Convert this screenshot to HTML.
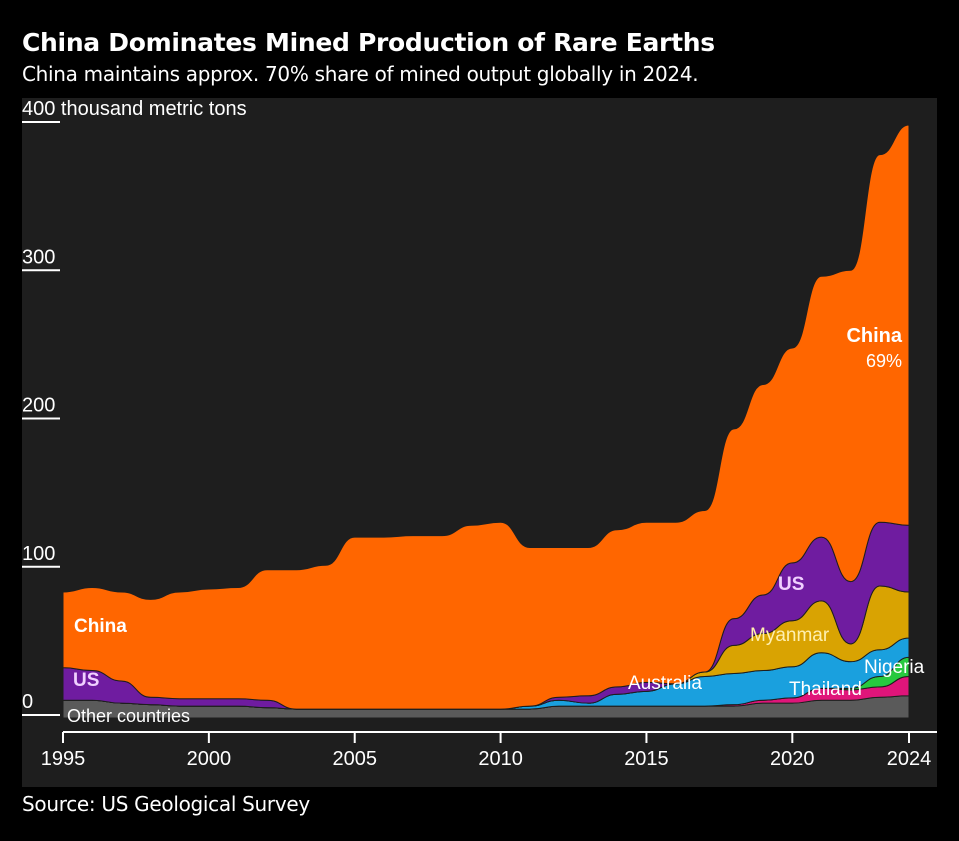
<!DOCTYPE html>
<html><head><meta charset="utf-8"><style>
body{margin:0;background:#000;width:959px;height:841px;overflow:hidden;font-family:"Liberation Sans",sans-serif;color:#fff}
#title{position:absolute;left:22px;top:28px;font-size:25px;font-weight:bold;font-family:"DejaVu Sans",sans-serif;letter-spacing:-0.3px}
#sub{position:absolute;left:22px;top:62px;font-size:20px;font-family:"DejaVu Sans",sans-serif;letter-spacing:-0.3px}
#src{position:absolute;left:22px;top:792px;font-size:20px;font-family:"DejaVu Sans",sans-serif;letter-spacing:-0.3px}
svg{position:absolute;left:0;top:0}
</style></head><body>
<div id="title">China Dominates Mined Production of Rare Earths</div>
<div id="sub">China maintains approx. 70% share of mined output globally in 2024.</div>
<div id="src">Source: US Geological Survey</div>
<svg id="chart" width="959" height="841">
<rect x="22" y="98" width="915" height="689" fill="#1e1e1e"/>
</svg>
<script>
const years=[];for(let y=1995;y<=2024;y++)years.push(y);
const other=[12,12,10,9,8,8,8,7,6,6,6,6,6,6,6,6,6,8,8,8,8,8,8,8,10,10,12,12,14,15];
const thailand=[0,0,0,0,0,0,0,0,0,0,0,0,0,0,0,0,0,0,0,0,0,0,0,1,2,3.6,8,7,7,13];
const nigeria=[0,0,0,0,0,0,0,0,0,0,0,0,0,0,0,0,0,0,0,0,0,0,0,0,0,0,0,1,7,13];
const australia=[0,0,0,0,0,0,0,0,0,0,0,0,0,0,0,0,2,4,2,8,10,15,20,21,20,21,24,18,18,13];
const myanmar=[0,0,0,0,0,0,0,0,0,0,0,0,0,0,0,0,0,0,0,0,0,0,3,19,25,31,35,12,43,31];
const us=[22,20,15,5,5,5,5,5,0,0,0,0,0,0,0,0,0,2,5,5,6,0,0,18,26,39,43,42,43,45];
const china=[51,56,60,66,72,74,75,88,94,97,116,116,117,117,124,126,107,101,100,106,108,109,109,128,142,145,176,210,248,270];
const yTicks=[0,100,200,300,400];
const xTicks=[1995,2000,2005,2010,2015,2020,2024];
const layers=[["other",other,"#5a5a5a"],["thailand",thailand,"#e0157a"],["nigeria",nigeria,"#27c93f"],["australia",australia,"#1aa0de"],["myanmar",myanmar,"#d9a302"],["us",us,"#6f1ca0"],["china",china,"#ff6600"]];
const X=y=>63+(y-1995)*(909-63)/29;
const Y=v=>718-v*1.4825;
const svg=document.getElementById('chart');const NS="http://www.w3.org/2000/svg";
function el(t,a){const e=document.createElementNS(NS,t);for(const k in a)e.setAttribute(k,a[k]);svg.appendChild(e);return e;}
function curve(pts){let d="";pts.forEach((p,i)=>{if(i==0){d+="M"+p[0]+","+p[1];return;}const q=pts[i-1];const m=(q[0]+p[0])/2;d+=" C"+m+","+q[1]+" "+m+","+p[1]+" "+p[0]+","+p[1];});return d;}
let base=years.map(()=>0);
layers.forEach(([name,vals,col])=>{
 const top=base.map((b,i)=>b+vals[i]);
 const up=years.map((y,i)=>[X(y),Y(top[i])]);
 const dn=years.map((y,i)=>[X(y),Y(base[i])]).reverse();
 let d=curve(up)+" L"+dn[0][0]+","+dn[0][1]+curve(dn).replace(/^M[^ ]+/,"")+" Z";
 const p=el('path',{d:d,fill:col,stroke:"#1e1e1e","stroke-width":1});
 
 
 base=top;
});
yTicks.forEach(v=>{
 const l=el('line',{x1:22,x2:60,y1:Y(v)-3,y2:Y(v)-3,stroke:"#fff","stroke-width":2});
 
 
 const t=el('text',{x:22,y:Y(v)-10,fill:"#fff","font-size":20});
 t.textContent=v==400?"400 thousand metric tons":String(v);
 
 
});
const ax=el('line',{x1:63,x2:937,y1:732,y2:732,stroke:"#fff","stroke-width":2});


xTicks.forEach(y=>{
 const l=el('line',{x1:X(y),x2:X(y),y1:732,y2:743,stroke:"#fff","stroke-width":2});
 
 
 const t=el('text',{x:X(y),y:765,fill:"#fff","font-size":20,"text-anchor":"middle"});
 t.textContent=y;
 
 
});
const labs=[["China",74,632,"#fff",19,"bold","start","label-china-left"],["US",73,686,"#f0d0ff",19,"bold","start","label-us-left"],["Other countries",67,722,"#fff",18,"normal","start","label-other"],["China",902,342,"#fff",20,"bold","end","label-china"],["69%",902,367,"#fff",18,"normal","end","label-china-share"],["US",778,590,"#f0d0ff",19,"bold","start","label-us"],["Myanmar",750,641,"#fff0b0",19,"normal","start","label-myanmar"],["Australia",628,689,"#fff",19,"normal","start","label-australia"],["Thailand",789,695,"#fff",19,"normal","start","label-thailand"],["Nigeria",864,673,"#fff",19,"normal","start","label-nigeria"]];
labs.forEach(([s,x,y,c,f,w,a,n])=>{
 const t=el('text',{x:x,y:y,fill:c,"font-size":f,"font-weight":w,"text-anchor":a});
 t.textContent=s;
 
 
});
</script>
</body></html>
